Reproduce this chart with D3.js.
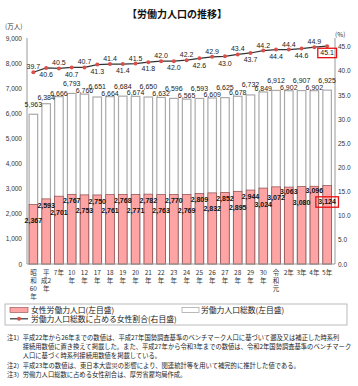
<!DOCTYPE html>
<html><head><meta charset="utf-8">
<script src="https://cdn.jsdelivr.net/npm/d3@7"></script>
<style>body{margin:0;background:#fff} svg{display:block}</style>
</head><body><svg id="c" width="358" height="386"></svg>
<script>
const categories = ["昭\n和\n60\n年","平\n成2\n年","7年","10\n年","12\n年","17\n年","18\n年","19\n年","20\n年","21\n年","22\n年","23\n年","24\n年","25\n年","26\n年","27\n年","28\n年","29\n年","30\n年","令\n和\n元","2年","3年","4年","5年"];
const totalLabor = [5963,6384,6666,6793,6766,6651,6664,6684,6674,6650,6632,6596,6565,6593,6609,6625,6678,6732,6849,6912,6902,6907,6902,6925];
const femaleLabor = [2367,2593,2701,2767,2753,2750,2761,2768,2771,2782,2763,2770,2769,2809,2832,2852,2895,2944,3024,3072,3063,3080,3096,3124];
const femaleRatio = [39.7,40.6,40.5,40.7,40.7,41.3,41.4,41.4,41.5,41.8,42.0,42.0,42.2,42.6,42.9,43.0,43.4,43.7,44.2,44.4,44.4,44.6,44.9,45.1];
const leftTicks = [0,1000,2000,3000,4000,5000,6000,7000,8000,9000];
const rightTicks = [0,5,10,15,20,25,30,35,40,45];
const title = "【労働力人口の推移】";
const legendLabels = ["女性労働力人口(左目盛)","労働力人口総数(左目盛)","労働力人口総数に占める女性割合(右目盛)"];
const notes = [
  ["注1）","平成22年から26年までの数値は、平成27年国勢調査基準のベンチマーク人口に基づいて遡及又は補正した時系列"],
  ["","接続用数値に置き換えて掲載した。また、平成27年から令和3年までの数値は、令和2年国勢調査基準のベンチマーク"],
  ["","人口に基づく時系列接続用数値を掲載している。"],
  ["注2）","平成23年の数値は、東日本大震災の影響により、関連統計等を用いて補完的に推計した値である。"],
  ["注3）","労働力人口総数に占める女性割合は、厚労省雇均局作成。"]
];

const F = "'Liberation Sans','Noto Sans CJK JP',sans-serif";
const J = "'Noto Sans CJK JP','Liberation Sans',sans-serif";
const svg = d3.select("#c");
const L = 27, R = 335, T = 38, B = 264;

const x = d3.scaleBand().domain(d3.range(categories.length)).range([L, 333.5]).paddingInner(0.33).paddingOuter(0.165);
const yL = d3.scaleLinear().domain([0, 9000]).range([B, T]);
const yR = d3.scaleLinear().domain([0, 46.8]).range([B, T]);
const cx = i => x(i) + x.bandwidth()/2;

// title
svg.append("text").attr("x", 177).attr("y", 14).attr("dy","0.35em").attr("text-anchor","middle")
  .attr("font-family", J).attr("font-size", 10).attr("font-weight","bold").attr("fill","#111").text(title);
svg.append("text").attr("x", 5).attr("y", 27).attr("dy","0.35em").attr("font-family", J).attr("font-size", 6.5).attr("fill","#333").text("(万人)");
svg.append("text").attr("x", 335).attr("y", 35).attr("dy","0.35em").attr("font-family", J).attr("font-size", 6.5).attr("fill","#333").text("(%)");

// axes
const axL = d3.axisLeft(yL).tickValues(leftTicks).tickFormat(d3.format(",")).tickSize(0).tickPadding(5);
const gL = svg.append("g").attr("transform", `translate(${L},0)`).call(axL);
const axR = d3.axisRight(yR).tickValues(rightTicks).tickFormat(d3.format(".1f")).tickSize(0).tickPadding(3);
const gR = svg.append("g").attr("transform", `translate(${R},0)`).call(axR);
[gL, gR].forEach(g => {
  g.select(".domain").remove();
  g.selectAll("text").attr("font-family", F).attr("font-size", 6.5).attr("fill", "#333");
});
svg.append("line").attr("x1", L).attr("x2", L).attr("y1", T).attr("y2", B).attr("stroke", "#999");
svg.append("line").attr("x1", R).attr("x2", R).attr("y1", T).attr("y2", B).attr("stroke", "#999");

// total bars
svg.append("g").selectAll("rect").data(totalLabor).join("rect")
  .attr("x", (d,i) => x(i)).attr("y", d => yL(d)).attr("width", x.bandwidth()).attr("height", d => B - yL(d))
  .attr("fill", "#fff").attr("stroke", "#aaa").attr("stroke-width", 1.2);
// female bars
svg.append("g").selectAll("rect").data(femaleLabor).join("rect")
  .attr("x", (d,i) => x(i)).attr("y", d => yL(d)).attr("width", x.bandwidth()).attr("height", d => B - yL(d))
  .attr("fill", "#ffa4a4").attr("stroke", "#8a4848").attr("stroke-width", 0.7);

svg.append("line").attr("x1", L).attr("x2", R).attr("y1", B).attr("y2", B).attr("stroke", "#999");

// x labels (one text element per line)
const xl = svg.append("g");
categories.forEach((c, i) => {
  c.split("\n").forEach((s, k) => xl.append("text").attr("text-anchor","middle").attr("font-family", J)
    .attr("font-size", 6.5).attr("fill","#333").attr("x", cx(i)).attr("y", 272.7 + k*8).attr("dy","0.35em").text(s));
});

// ratio line
const line = d3.line().x((d,i) => cx(i)).y(d => yR(d));
svg.append("path").datum(femaleRatio).attr("d", line).attr("fill","none").attr("stroke","#333").attr("stroke-width",1.2);
svg.append("g").selectAll("circle").data(femaleRatio).join("circle")
  .attr("cx", (d,i) => cx(i)).attr("cy", d => yR(d)).attr("r", 2).attr("fill", "#d8504c");

// labels (staggered like the reference to limit overlap)
const fmt = d3.format(",");
const totOff = i => (i === 1 ? 6 : (i % 2 === 1 || i === 0) ? 10 : 3.5);
const totLbl = svg.append("g").selectAll("text").data(totalLabor).join("text")
  .attr("x", (d,i) => cx(i)).attr("y", (d,i) => yL(d) - totOff(i)).attr("dy","0.35em")
  .attr("text-anchor","middle").attr("font-family", F).attr("font-size", 7).attr("fill","#222").text(d => fmt(d));
const femOff = i => {
  if (i >= 20) return i % 2 === 0 ? 4.5 : 16;
  if (i === 19) return 11;
  return i % 2 === 0 ? 16 : 6.5;
};
const femLbl = svg.append("g").selectAll("text").data(femaleLabor).join("text")
  .attr("x", (d,i) => cx(i)).attr("y", (d,i) => yL(d) + femOff(i)).attr("dy","0.35em")
  .attr("text-anchor","middle").attr("font-family", F).attr("font-size", 7).attr("font-weight","bold").attr("fill","#111").text(d => fmt(d));
const ratLbl = svg.append("g").selectAll("text").data(femaleRatio).join("text")
  .attr("x", (d,i) => cx(i)).attr("y", (d,i) => yR(d) + (i % 2 === 0 ? -5.5 : 6.8)).attr("dy","0.35em")
  .attr("text-anchor","middle").attr("font-family", F).attr("font-size", 7).attr("fill","#222").text(d => d.toFixed(1));

// red boxes around latest values
[ratLbl.nodes()[femaleRatio.length-1], femLbl.nodes()[femaleLabor.length-1]].forEach(n => {
  const b = n.getBBox();
  svg.append("rect").attr("x", b.x - 2.5).attr("y", b.y - 1.2).attr("width", b.width + 5).attr("height", b.height + 2.4)
    .attr("fill","none").attr("stroke","#e81010").attr("stroke-width",1.3);
});

// legend
svg.append("rect").attr("x", 5).attr("y", 304).attr("width", 342).attr("height", 21).attr("fill","none").attr("stroke","#aaa").attr("stroke-width",0.8);
svg.append("rect").attr("x", 10).attr("y", 307.5).attr("width", 18).attr("height", 5).attr("fill","#ffa4a4").attr("stroke","#8a4848").attr("stroke-width",0.6);
svg.append("rect").attr("x", 182).attr("y", 307.5).attr("width", 17).attr("height", 5).attr("fill","#fff").attr("stroke","#aaa").attr("stroke-width",0.8);
svg.append("line").attr("x1", 10).attr("x2", 28).attr("y1", 318.8).attr("y2", 318.8).attr("stroke","#333").attr("stroke-width",1.2);
svg.append("circle").attr("cx", 19).attr("cy", 318.8).attr("r", 2).attr("fill","#d8504c");
[[31, 310, 0],[201, 310, 1],[31, 318.8, 2]].forEach(([lx, ly, k]) => {
  svg.append("text").attr("x", lx).attr("y", ly).attr("dy","0.35em").attr("font-family", J).attr("font-size", 7.8).attr("fill","#222").text(legendLabels[k]);
});

// notes
const ny = [338, 347, 356, 365.5, 375];
notes.forEach((n, k) => {
  if (n[0]) svg.append("text").attr("x", 7).attr("y", ny[k]).attr("dy","0.35em").attr("font-family", J).attr("font-size", 6.3).attr("fill","#222").text(n[0]);
  svg.append("text").attr("x", 22.7).attr("y", ny[k]).attr("dy","0.35em").attr("font-family", J).attr("font-size", 6.3).attr("fill","#222").text(n[1]);
});
</script></body></html>
